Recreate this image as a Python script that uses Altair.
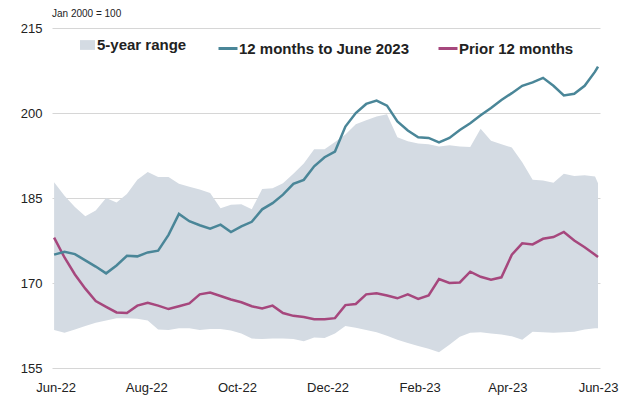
import altair as alt
import pandas as pd

# weekly observation dates (plus final observation on 1 Jun 2023)
dates = [d.strftime("%Y-%m-%dT00:00:00") for d in pd.date_range("2022-05-31", periods=53, freq="7D")]
dates.append("2023-06-01T00:00:00")

SERIES_RANGE = "5-year range"
SERIES_RECENT = "12 months to June 2023"
SERIES_PRIOR = "Prior 12 months"

recent = [
    175.0, 175.5, 175.1, 174.0, 172.9, 171.7, 173.1, 174.8, 174.7, 175.4,
    175.7, 178.5, 182.2, 180.9, 180.2, 179.6, 180.3, 179.0, 180.0, 180.8,
    183.0, 184.1, 185.6, 187.5, 188.2, 190.6, 192.2, 193.2, 197.6, 200.0,
    201.6, 202.2, 201.3, 198.5, 196.9, 195.7, 195.6, 194.8, 195.6, 197.0,
    198.2, 199.6, 200.9, 202.3, 203.5, 204.8, 205.4, 206.2, 204.8, 203.1,
    203.4, 204.8, 207.3, 208.2,
]

prior = [
    178.0, 174.5, 171.5, 169.0, 166.8, 165.8, 164.8, 164.7, 166.0, 166.5,
    166.0, 165.4, 165.9, 166.4, 168.0, 168.3, 167.7, 167.1, 166.6, 165.9,
    165.5, 166.0, 164.7, 164.2, 164.0, 163.6, 163.6, 163.8, 166.1, 166.3,
    168.0, 168.2, 167.8, 167.3, 168.0, 167.2, 167.8, 170.7, 170.0, 170.1,
    172.0, 171.1, 170.6, 171.0, 175.0, 177.0, 176.8, 177.8, 178.1, 179.0,
    177.5, 176.3, 175.0, 174.6,
]

range_high = [
    187.8, 185.4, 183.4, 181.8, 182.8, 185.0, 184.2, 185.7, 188.2, 189.6,
    188.7, 188.7, 187.5, 187.0, 186.5, 185.9, 183.2, 183.8, 183.9, 183.0,
    186.6, 186.7, 187.6, 189.3, 191.1, 193.6, 193.6, 194.9, 196.2, 198.0,
    198.7, 199.4, 199.8, 195.7, 195.0, 194.6, 194.5, 194.1, 194.3, 194.1,
    194.0, 197.2, 195.1, 194.5, 193.9, 191.3, 188.2, 188.1, 187.7, 189.3,
    188.9, 189.0, 188.8, 187.6,
]

range_low = [
    161.7, 161.2, 161.8, 162.4, 163.0, 163.4, 163.8, 163.8, 163.7, 163.4,
    161.8, 161.7, 162.0, 162.0, 161.7, 161.9, 161.9, 161.6, 161.1, 160.2,
    160.1, 160.2, 160.2, 160.1, 159.7, 160.4, 160.3, 161.1, 162.4, 162.1,
    161.7, 161.3, 160.7, 160.0, 159.4, 158.9, 158.4, 157.8, 159.1, 160.5,
    161.2, 161.3, 161.1, 160.9, 160.6, 160.0, 161.4, 161.3, 161.2, 161.3,
    161.4, 161.8, 162.0, 162.0,
]

y_ticks = [155, 170, 185, 200, 215]
x_tick_months = [(2022, 6), (2022, 8), (2022, 10), (2022, 12), (2023, 2), (2023, 4), (2023, 6)]

AREA_COLOR = "#d4dbe3"
TEAL = "#4a8698"
MAGENTA = "#a6477d"
FONT = "Liberation Sans"
TEXT = "#222222"

area_df = pd.DataFrame({"date": dates, "low": range_low, "high": range_high, "series": SERIES_RANGE})
recent_df = pd.DataFrame({"date": dates, "value": recent, "series": SERIES_RECENT})
prior_df = pd.DataFrame({"date": dates, "value": prior, "series": SERIES_PRIOR})

x_enc = alt.X(
    "date:T",
    scale=alt.Scale(domain=[
        alt.DateTime(year=2022, month=5, date=29, hours=14),
        alt.DateTime(year=2023, month=6, date=2, hours=8),
    ]),
    axis=alt.Axis(
        title=None,
        format="%b-%y",
        values=[alt.DateTime(year=y, month=m, date=1) for y, m in x_tick_months],
        grid=False, domain=False, ticks=False,
        labelFlush=False, labelOverlap=False, labelPadding=13,
        labelFontSize=13, labelFont=FONT, labelColor=TEXT,
    ),
)

y_axis = alt.Axis(
    title=None, values=y_ticks, grid=True, gridColor="#d6d6d6", gridWidth=1,
    domain=False, ticks=False, labelPadding=10,
    labelFontSize=13, labelFont=FONT, labelColor=TEXT,
)
y_scale = alt.Scale(domain=[155, 215], nice=False, zero=False)

area = alt.Chart(area_df).mark_area(opacity=1).encode(
    x=x_enc,
    y=alt.Y("low:Q", scale=y_scale, axis=y_axis),
    y2="high:Q",
    fill=alt.Fill(
        "series:N",
        scale=alt.Scale(domain=[SERIES_RANGE], range=[AREA_COLOR]),
        legend=alt.Legend(
            title=None, orient="none", legendX=28, legendY=9.5,
            symbolType="M-1,-0.65H1V0.65H-1Z", symbolSize=225,
            symbolStrokeWidth=0, symbolOpacity=1,
            labelFontSize=15, labelFontWeight="bold", labelFont=FONT,
            labelColor=TEXT, labelOffset=2, labelLimit=400, padding=0,
        ),
    ),
)

stroke_scale = alt.Scale(domain=[SERIES_RECENT, SERIES_PRIOR], range=[TEAL, MAGENTA])
stroke_legend = alt.Legend(
    title=None, orient="none", legendX=165, legendY=9.5, direction="horizontal",
    symbolType="stroke", symbolSize=361, symbolStrokeWidth=3,
    labelFontSize=15, labelFontWeight="bold", labelFont=FONT,
    labelColor=TEXT, labelOffset=0, labelLimit=400, columnPadding=22, padding=0,
)


def line_layer(df):
    return alt.Chart(df).mark_line(strokeWidth=2.5).encode(
        x=x_enc,
        y=alt.Y("value:Q", scale=y_scale, axis=y_axis),
        stroke=alt.Stroke("series:N", scale=stroke_scale, legend=stroke_legend),
    )


chart = alt.layer(area, line_layer(prior_df), line_layer(recent_df)).properties(
    width=548,
    height=340,
    padding={"left": 44, "top": 20, "right": 22, "bottom": 28},
    autosize=alt.AutoSizeParams(type="none"),
    title=alt.TitleParams(
        "Jan 2000 = 100", anchor="start", frame="group", fontSize=10,
        fontWeight="normal", font=FONT, color=TEXT, offset=3,
    ),
).configure_view(stroke=None)

chart.save("out.html", embed_options={"renderer": "svg", "actions": False})
